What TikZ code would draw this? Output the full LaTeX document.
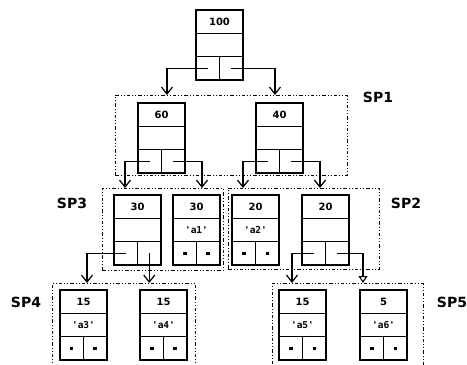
\documentclass[tikz,border=0pt]{standalone}
\usepackage{fontspec}
\setmainfont{DejaVu Sans}
\newfontfamily\midfont{DejaVu Sans Mono}
\usetikzlibrary{arrows.meta}
\tikzset{
 cell/.style={draw, line width=1.2pt, minimum width=47pt, minimum height=23.3pt, inner sep=0pt, outer sep=0pt, anchor=north west, font=\bfseries\fontsize{10}{11}\selectfont},
 half/.style={draw, line width=1.2pt, minimum width=23.5pt, minimum height=23.3pt, inner sep=0pt, outer sep=0pt, anchor=north west},
 spbox/.style={draw, line width=1pt, dash pattern=on 3.5pt off 2pt on 1pt off 2pt on 1pt off 2pt, inner sep=0pt, outer sep=0pt, anchor=north west},
 splabel/.style={font=\bfseries\fontsize{14}{15}\selectfont},
 link/.style={line width=1.1pt, -{Straight Barb[length=7pt,width=11pt,line width=1.2pt]}},
}
\newcommand\midtxt[1]{{\midfont\bfseries\fontsize{9.5}{10}\selectfont\textquotesingle #1\textquotesingle}}
\newcommand\dotsq{\rule{3.5pt}{3.5pt}}
\newcommand\tnode[6]{%
 \node[cell] (#1t) at (#2,#3) {#4};
 \node[cell] (#1m) at (#1t.south west) {#5};
 \node[half] (#1l) at (#1m.south west) {#6};
 \node[half] (#1r) at (#1l.north east) {#6};
}
\begin{document}
\begin{tikzpicture}[x=1pt,y=-1pt]
\useasboundingbox (0,0) rectangle (467,365);
\clip (0,0) rectangle (467,365);
% subpage boxes
\node[spbox, minimum width=232pt, minimum height=80pt] (sp1) at (115,95) {};
\node[spbox, minimum width=121pt, minimum height=82pt] (sp3) at (102,188) {};
\node[spbox, minimum width=151pt, minimum height=81pt] (sp2) at (228,188) {};
\node[spbox, minimum width=143pt, minimum height=92pt] (sp4) at (52,283) {};
\node[spbox, minimum width=151pt, minimum height=92pt] (sp5) at (272,283) {};
\node[splabel] (l1) at (378,97) {SP1};
\node[splabel] (l2) at (406,203) {SP2};
\node[splabel] (l3) at (72,203) {SP3};
\node[splabel] (l4) at (26,302) {SP4};
\node[splabel] (l5) at (452,302) {SP5};
% tree nodes
\tnode{a}{196}{10}{100}{}{}
\tnode{b}{138}{103}{60}{}{}
\tnode{c}{256}{103}{40}{}{}
\tnode{d}{114}{195}{30}{}{}
\tnode{e}{173}{195}{30}{\midtxt{a1}}{\dotsq}
\tnode{f}{232}{195}{20}{\midtxt{a2}}{\dotsq}
\tnode{g}{302}{195}{20}{}{}
\tnode{h}{60}{290}{15}{\midtxt{a3}}{\dotsq}
\tnode{i}{140}{290}{15}{\midtxt{a4}}{\dotsq}
\tnode{j}{279}{290}{15}{\midtxt{a5}}{\dotsq}
\tnode{k}{360}{290}{5}{\midtxt{a6}}{\dotsq}
% arrow targets
\coordinate (t1) at (167,95);
\coordinate (t2) at (275,95);
\coordinate (t3) at (125,188);
\coordinate (t4) at (202,188);
\coordinate (t5) at (243,188);
\coordinate (t6) at (320,188);
\coordinate (t7) at (87,283);
\coordinate (t9) at (292,283);
\coordinate (t10) at (363,283);
% connectors
\draw[link] (al.center) -| (t1);
\draw[link] (ar.center) -| (t2);
\draw[link] (bl.center) -| (t3);
\draw[link] (br.center) -| (t4);
\draw[link] (cl.center) -| (t5);
\draw[link] (cr.center) -| (t6);
\draw[link] (dl.center) -| (t7);
\draw[link] (dr.center) -- (dr.center |- sp4.north);
\draw[link] (gl.center) -| (t9);
\draw[line width=1.1pt, -{Triangle[open,length=7pt,width=9pt,line width=1.1pt]}] (gr.center) -| (t10);
\end{tikzpicture}
\end{document}
